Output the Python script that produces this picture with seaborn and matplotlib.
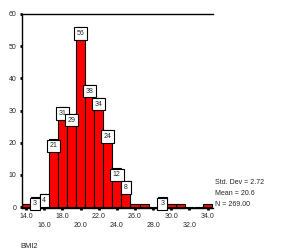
import numpy as np
import pandas as pd
import seaborn as sns
import matplotlib.pyplot as plt

# BMI bin centres (width 1) and their counts
bmi_bins = [14, 15, 16, 17, 18, 19, 20, 21, 22, 23, 24, 25, 26, 27, 28, 29, 30, 31, 32, 33, 34]
counts = [1, 3, 4, 21, 31, 29, 56, 38, 34, 24, 12, 8, 1, 1, 0, 3, 1, 1, 0, 0, 1]
x_major = [14, 18, 22, 26, 30, 34]
x_minor = [16, 20, 24, 28, 32]
stats_lines = ["Std. Dev = 2.72", "Mean = 20.6", "N = 269.00"]

df = pd.DataFrame({"BMI2": bmi_bins, "count": counts})

sns.set_style("ticks")
plt.rcParams['font.family'] = ['Liberation Sans', 'DejaVu Sans']
fs = 5

fig = plt.figure(figsize=(2.81, 2.52), dpi=100)
ax = fig.add_axes([22 / 281, 1 - 208 / 252, 191 / 281, 194 / 252])

sns.histplot(data=df, x="BMI2", weights="count", binwidth=1, binrange=(13.5, 34.5),
             color="#ff0000", edgecolor="black", linewidth=0.8, alpha=1, ax=ax)

# count boxes on the bars
for b, c in zip(bmi_bins, counts):
    if c >= 3:
        ax.text(b, c - 2, str(c), ha="center", va="center", fontsize=fs,
                bbox=dict(boxstyle="square,pad=0.4", fc="white", ec="black", lw=0.8))

ax.set_xlim(13.55, 34.6)
ax.set_ylim(-0.3, 60)
ax.set_yticks([0, 10, 20, 30, 40, 50, 60])
ax.set_xticks(x_major)
ax.set_xticklabels([f"{v:.1f}" for v in x_major])
ax.set_xticks(x_minor, minor=True)
ax.set_xticklabels([f"{v:.1f}" for v in x_minor], minor=True)
ax.tick_params(axis="both", which="both", direction="out", length=1.5, width=2,
               labelsize=fs, color="black")
ax.tick_params(axis="x", which="major", pad=2)
ax.tick_params(axis="x", which="minor", pad=8.5)
ax.tick_params(axis="y", pad=2.5)

for s in ["left", "bottom", "top"]:
    ax.spines[s].set_visible(True)
    ax.spines[s].set_linewidth(1.0)
    ax.spines[s].set_color("black")
ax.spines["right"].set_visible(False)

ax.set_ylabel("")
ax.set_xlabel("BMI2", fontsize=fs + 0.4, ha="left", va="center")
ax.xaxis.set_label_coords(-0.01, -0.201)

for i, line in enumerate(stats_lines):
    ax.text(1.01, 0.134 - i * 0.057, line, transform=ax.transAxes,
            ha="left", va="center", fontsize=fs)

fig.savefig("out.png", dpi=100)
